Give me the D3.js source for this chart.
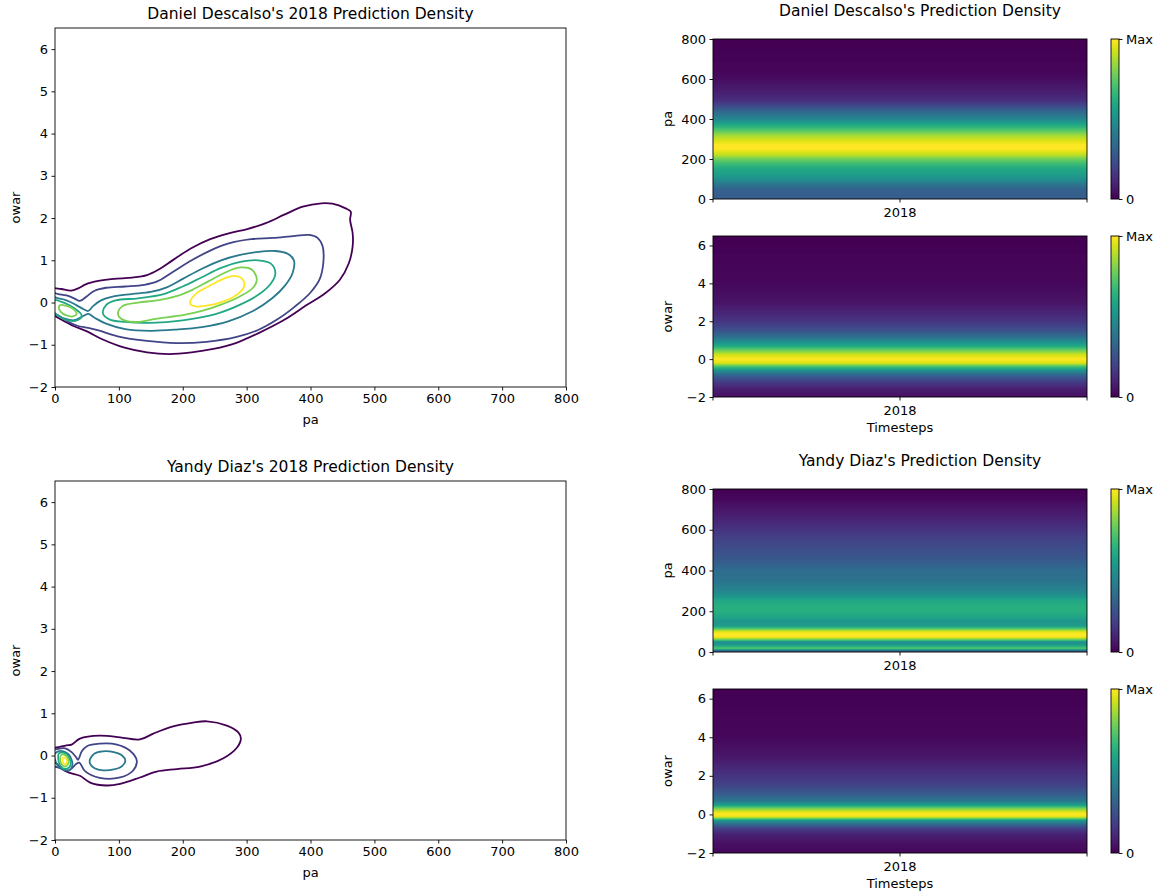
<!DOCTYPE html>
<html><head><meta charset="utf-8">
<script src="https://cdn.jsdelivr.net/npm/d3@7"></script>
<style>
body{margin:0;background:#fff;}
text{font-family:"DejaVu Sans",sans-serif;fill:#000;}
</style></head>
<body><svg id="chart" width="1156" height="894"></svg>
<script>
// ---------------- DATA ----------------
const paTicks = [0,100,200,300,400,500,600,700,800];
const owarTicks = [-2,-1,0,1,2,3,4,5,6];
const heatPaTicks = [0,200,400,600,800];
const heatOwarTicks = [-2,0,2,4,6];
const timeLabels = ["2018"];
const cbarLabels = ["0","Max"];
const levelValues = [0,0.2,0.4,0.6,0.8,1.0];

// Descalso contour rings: points (pa, owar)
const descalsoL0 = [[-8,0.36],[0,0.34],[10,0.32],[25,0.28],[37,0.34],[48,0.43],[68,0.51],[92,0.56],[121,0.59],[144,0.65],[161,0.77],[185,1.01],[214,1.29],[243,1.5],[272,1.64],[301,1.74],[330,1.88],[359,2.08],[388,2.27],[417,2.35],[434,2.34],[455,2.23],[463,2.15],[462,1.96],[466,1.64],[466,1.33],[460,0.93],[446,0.54],[423,0.22],[394,-0.06],[359,-0.41],[318,-0.73],[283,-0.96],[248,-1.1],[214,-1.18],[179,-1.22],[144,-1.18],[109,-1.07],[74,-0.87],[51,-0.69],[28,-0.55],[8,-0.39],[0,-0.32],[-8,-0.26]];
const descalsoL1 = [[-8,0.24],[5,0.2],[18,0.17],[30,0.1],[39,0.04],[50,0.15],[62,0.28],[80,0.35],[110,0.38],[140,0.42],[160,0.5],[185,0.73],[214,1.0],[243,1.23],[272,1.4],[307,1.5],[341,1.53],[376,1.58],[398,1.6],[411,1.53],[419,1.33],[420,0.93],[414,0.54],[399,0.22],[376,-0.09],[347,-0.41],[318,-0.65],[283,-0.82],[237,-0.93],[190,-0.96],[144,-0.91],[98,-0.8],[68,-0.66],[52,-0.6],[35,-0.55],[20,-0.45],[5,-0.3],[-8,-0.2]];
const descalsoL2 = [[-8,0.14],[5,0.1],[18,0.05],[32,-0.05],[45,-0.16],[52,-0.2],[60,-0.08],[72,0.05],[90,0.14],[120,0.2],[150,0.25],[175,0.36],[200,0.56],[230,0.8],[260,1.0],[290,1.13],[318,1.2],[345,1.22],[365,1.15],[374,1.0],[372,0.7],[360,0.4],[340,0.1],[310,-0.2],[270,-0.45],[230,-0.58],[190,-0.64],[150,-0.67],[110,-0.63],[80,-0.5],[62,-0.36],[52,-0.27],[42,-0.34],[30,-0.42],[15,-0.38],[3,-0.3],[-8,-0.2]];
const descalsoL3a = [[-4,0.06],[8,0.03],[22,-0.06],[36,-0.2],[42,-0.32],[35,-0.42],[22,-0.43],[10,-0.36],[0,-0.25],[-5,-0.1]];
const descalsoL3b = [[75,-0.25],[80,-0.06],[95,0.05],[130,0.1],[170,0.2],[200,0.38],[230,0.6],[260,0.82],[290,0.96],[318,1.0],[338,0.92],[345,0.7],[338,0.45],[320,0.2],[290,-0.05],[250,-0.28],[200,-0.42],[150,-0.48],[110,-0.46],[85,-0.4]];
const descalsoL4a = [[8,-0.06],[18,-0.08],[28,-0.15],[34,-0.26],[28,-0.33],[17,-0.3],[9,-0.22],[6,-0.12]];
const descalsoL4b = [[99,-0.21],[106,-0.08],[130,0.0],[160,0.05],[190,0.15],[215,0.3],[240,0.5],[265,0.7],[290,0.83],[308,0.78],[316,0.55],[310,0.35],[290,0.15],[260,-0.05],[230,-0.2],[200,-0.3],[160,-0.38],[130,-0.46],[110,-0.43],[100,-0.33]];
const descalsoL5 = [[212,0.04],[220,0.2],[240,0.38],[262,0.55],[280,0.63],[293,0.56],[296,0.38],[286,0.2],[266,0.04],[240,-0.07],[220,-0.09],[212,-0.04]];

// Diaz contour rings
const diazL0 = [[-8,0.16],[3,0.19],[18,0.24],[26,0.26],[39,0.4],[70,0.47],[102,0.43],[133,0.38],[154,0.52],[185,0.69],[216,0.78],[238,0.81],[269,0.71],[287,0.55],[291,0.4],[285,0.19],[263,-0.07],[227,-0.26],[191,-0.32],[159,-0.38],[133,-0.52],[102,-0.67],[81,-0.71],[55,-0.64],[39,-0.48],[23,-0.41],[11,-0.32],[3,-0.2],[-8,-0.08]];
const diazL1 = [[-6,0.1],[5,0.16],[16,0.17],[26,0.08],[33,-0.04],[36,-0.1],[42,0.1],[50,0.22],[70,0.28],[97,0.26],[117,0.12],[128,-0.12],[122,-0.36],[102,-0.52],[70,-0.53],[47,-0.37],[38,-0.17],[33,-0.2],[28,-0.28],[21,-0.35],[8,-0.3],[-6,-0.2]];
const diazL2a = [[-1,0.02],[5,0.1],[13,0.1],[21,0.03],[26,-0.1],[27,-0.25],[22,-0.35],[14,-0.34],[6,-0.27],[1,-0.14]];
const diazL2b = [[55,-0.08],[62,0.05],[75,0.1],[92,0.08],[105,0.0],[110,-0.12],[105,-0.25],[92,-0.33],[75,-0.35],[62,-0.3],[55,-0.2]];
const diazL3 = [[6,0.05],[14,0.06],[20,0.0],[24,-0.12],[24,-0.24],[19,-0.31],[12,-0.3],[7,-0.2],[5,-0.06]];
const diazL4 = [[10,0.02],[16,0.01],[20,-0.06],[21,-0.16],[18,-0.25],[13,-0.25],[9,-0.17],[8,-0.06]];
const diazL5 = [[13,-0.05],[17,-0.07],[19,-0.13],[17,-0.2],[14,-0.2],[12,-0.14]];

// Heatmap density profiles: [value on axis, relative density 0..1]
const descalsoPaProfile = [[0,0.29],[40,0.3],[60,0.34],[75,0.4],[100,0.5],[120,0.55],[150,0.6],[175,0.68],[200,0.78],[220,0.9],[250,1.0],[270,1.0],[300,0.92],[320,0.85],[350,0.7],[400,0.46],[450,0.28],[470,0.2],[500,0.12],[550,0.07],[600,0.03],[650,0.01],[800,0.0]];
const descalsoOwarProfile = [[-2,0.04],[-1.6,0.08],[-1.3,0.15],[-1,0.25],[-0.8,0.35],[-0.6,0.5],[-0.4,0.7],[-0.2,0.95],[0,1.0],[0.25,0.92],[0.5,0.75],[0.7,0.6],[1,0.45],[1.2,0.35],[1.5,0.25],[2,0.15],[2.5,0.1],[3,0.05],[4,0.02],[6.5,0.0]];
const diazPaProfile = [[0,0.3],[5,0.3],[10,0.45],[15,0.7],[20,0.72],[30,0.6],[40,0.5],[50,0.5],[55,0.65],[65,0.85],[75,1.0],[90,1.0],[100,0.95],[110,0.8],[120,0.65],[130,0.55],[150,0.52],[170,0.58],[200,0.63],[220,0.63],[250,0.6],[280,0.5],[300,0.45],[350,0.38],[400,0.35],[450,0.28],[500,0.24],[550,0.2],[600,0.15],[650,0.1],[700,0.06],[750,0.02],[800,0.0]];
const diazOwarProfile = [[-2,0.02],[-1.5,0.04],[-1,0.1],[-0.7,0.2],[-0.5,0.35],[-0.3,0.55],[-0.2,0.8],[-0.1,0.97],[0,1.0],[0.1,0.97],[0.3,0.8],[0.5,0.55],[0.7,0.4],[1,0.3],[1.5,0.2],[2,0.15],[3,0.06],[4,0.02],[6.5,0.0]];

// ---------------- DRAW ----------------
const svg = d3.select("#chart");
const color = v => d3.interpolateViridis(v);
const fs = 13;
const tfs = 15.5;
const minus = d => d < 0 ? "\u2212" + Math.abs(d) : String(d);

function axesFrame(g, x0, x1, y0, y1) {
  g.append("rect").attr("x", x0).attr("y", y0).attr("width", x1 - x0).attr("height", y1 - y0)
    .attr("fill", "none").attr("stroke", "#000").attr("stroke-width", 0.9);
}
function styleAxis(a) {
  a.select(".domain").remove();
  a.selectAll("text").attr("font-size", fs).attr("font-family", "DejaVu Sans").attr("fill", "#000");
  a.selectAll("line").attr("stroke", "#000").attr("stroke-width", 0.9);
}

function contourPanel(box, title, rings, clipId) {
  const x = d3.scaleLinear().domain([0, 800]).range([box.x0, box.x1]);
  const y = d3.scaleLinear().domain([-2, 6.5]).range([box.y1, box.y0]);
  const g = svg.append("g");
  svg.append("clipPath").attr("id", clipId).append("rect")
    .attr("x", box.x0).attr("y", box.y0).attr("width", box.x1 - box.x0).attr("height", box.y1 - box.y0);
  const line = d3.line().x(d => x(d[0])).y(d => y(d[1])).curve(d3.curveCatmullRomClosed.alpha(0.5));
  g.append("g").attr("clip-path", `url(#${clipId})`).selectAll("path").data(rings).join("path")
    .attr("d", r => line(r.pts)).attr("fill", "none")
    .attr("stroke", r => color(levelValues[r.level])).attr("stroke-width", 1.8);
  const xa = g.append("g").attr("transform", `translate(0,${box.y1})`)
    .call(d3.axisBottom(x).tickValues(paTicks).tickSize(3.5).tickPadding(3.5).tickFormat(d3.format("d")));
  const ya = g.append("g").attr("transform", `translate(${box.x0},0)`)
    .call(d3.axisLeft(y).tickValues(owarTicks).tickSize(3.5).tickPadding(3.5).tickFormat(minus));
  styleAxis(xa); styleAxis(ya);
  axesFrame(g, box.x0, box.x1, box.y0, box.y1);
  g.append("text").attr("x", (box.x0 + box.x1) / 2).attr("y", box.y1 + 37).attr("text-anchor", "middle").attr("font-size", fs).text("pa");
  g.append("text").attr("transform", `translate(${box.x0 - 35},${(box.y0 + box.y1) / 2}) rotate(-90)`).attr("text-anchor", "middle").attr("font-size", fs).text("owar");
  g.append("text").attr("x", (box.x0 + box.x1) / 2).attr("y", box.y0 - 9).attr("text-anchor", "middle").attr("font-size", tfs).text(title);
}

function heatPanel(box, domain, ticks, profile, ylabel, showX) {
  const y = d3.scaleLinear().domain(domain).range([box.y1, box.y0]);
  const x = d3.scalePoint().domain(timeLabels).range([box.x0, box.x1]).padding(0.5);
  const prof = d3.scaleLinear().domain(profile.map(d => d[0])).range(profile.map(d => d[1])).clamp(true);
  const g = svg.append("g");
  const rows = d3.range(box.y0, box.y1, 1);
  g.append("g").selectAll("rect").data(rows).join("rect")
    .attr("x", box.x0).attr("y", d => d).attr("width", box.x1 - box.x0).attr("height", 1.05)
    .attr("fill", d => color(prof(y.invert(d + 0.5))));
  const tickXs = [box.x0, x(timeLabels[0]), box.x1];
  g.selectAll("line.xt").data(tickXs).join("line").attr("class", "xt")
    .attr("x1", d => d).attr("x2", d => d).attr("y1", box.y1).attr("y2", box.y1 + 3.5).attr("stroke", "#000").attr("stroke-width", 0.9);
  g.append("text").attr("x", x(timeLabels[0])).attr("y", box.y1 + 18).attr("text-anchor", "middle").attr("font-size", fs).text(timeLabels[0]);
  const ya = g.append("g").attr("transform", `translate(${box.x0},0)`)
    .call(d3.axisLeft(y).tickValues(ticks).tickSize(3.5).tickPadding(3.5).tickFormat(minus));
  styleAxis(ya);
  axesFrame(g, box.x0, box.x1, box.y0, box.y1);
  g.append("text").attr("transform", `translate(${box.ylab},${(box.y0 + box.y1) / 2}) rotate(-90)`).attr("text-anchor", "middle").attr("font-size", fs).text(ylabel);
  if (showX) g.append("text").attr("x", (box.x0 + box.x1) / 2).attr("y", box.y1 + 35).attr("text-anchor", "middle").attr("font-size", fs).text("Timesteps");
  // colorbar
  const cx0 = 1111, cx1 = 1119;
  const cb = d3.scaleLinear().domain([0, 1]).range([box.y1, box.y0]);
  g.append("g").selectAll("rect").data(d3.range(box.y0, box.y1, 1)).join("rect")
    .attr("x", cx0).attr("y", d => d).attr("width", cx1 - cx0).attr("height", 1.05)
    .attr("fill", d => color(cb.invert(d + 0.5)));
  axesFrame(g, cx0, cx1, box.y0, box.y1);
  const ca = g.append("g").attr("transform", `translate(${cx1},0)`)
    .call(d3.axisRight(cb).tickValues([0, 1]).tickSize(3.5).tickPadding(3.5).tickFormat(d => d === 0 ? cbarLabels[0] : cbarLabels[1]));
  styleAxis(ca);
}

const ring = (level, pts) => ({ level, pts });

contourPanel({ x0: 55, x1: 566, y0: 28, y1: 387 }, "Daniel Descalso's 2018 Prediction Density",
  [ring(0, descalsoL0), ring(1, descalsoL1), ring(2, descalsoL2), ring(3, descalsoL3a), ring(3, descalsoL3b), ring(4, descalsoL4a), ring(4, descalsoL4b), ring(5, descalsoL5)], "c1");
contourPanel({ x0: 55, x1: 566, y0: 481, y1: 840 }, "Yandy Diaz's 2018 Prediction Density",
  [ring(0, diazL0), ring(1, diazL1), ring(2, diazL2a), ring(2, diazL2b), ring(3, diazL3), ring(4, diazL4), ring(5, diazL5)], "c2");

heatPanel({ x0: 713, x1: 1087, y0: 39, y1: 199, ylab: 672 }, [0, 800], heatPaTicks, descalsoPaProfile, "pa", false);
heatPanel({ x0: 713, x1: 1087, y0: 236, y1: 397, ylab: 672 }, [-2, 6.5], heatOwarTicks, descalsoOwarProfile, "owar", true);
heatPanel({ x0: 713, x1: 1087, y0: 489, y1: 652, ylab: 672 }, [0, 800], heatPaTicks, diazPaProfile, "pa", false);
heatPanel({ x0: 713, x1: 1087, y0: 689, y1: 853, ylab: 672 }, [-2, 6.5], heatOwarTicks, diazOwarProfile, "owar", true);

svg.append("text").attr("x", 920).attr("y", 16).attr("text-anchor", "middle").attr("font-size", tfs).text("Daniel Descalso's Prediction Density");
svg.append("text").attr("x", 920).attr("y", 466).attr("text-anchor", "middle").attr("font-size", tfs).text("Yandy Diaz's Prediction Density");
</script></body></html>
